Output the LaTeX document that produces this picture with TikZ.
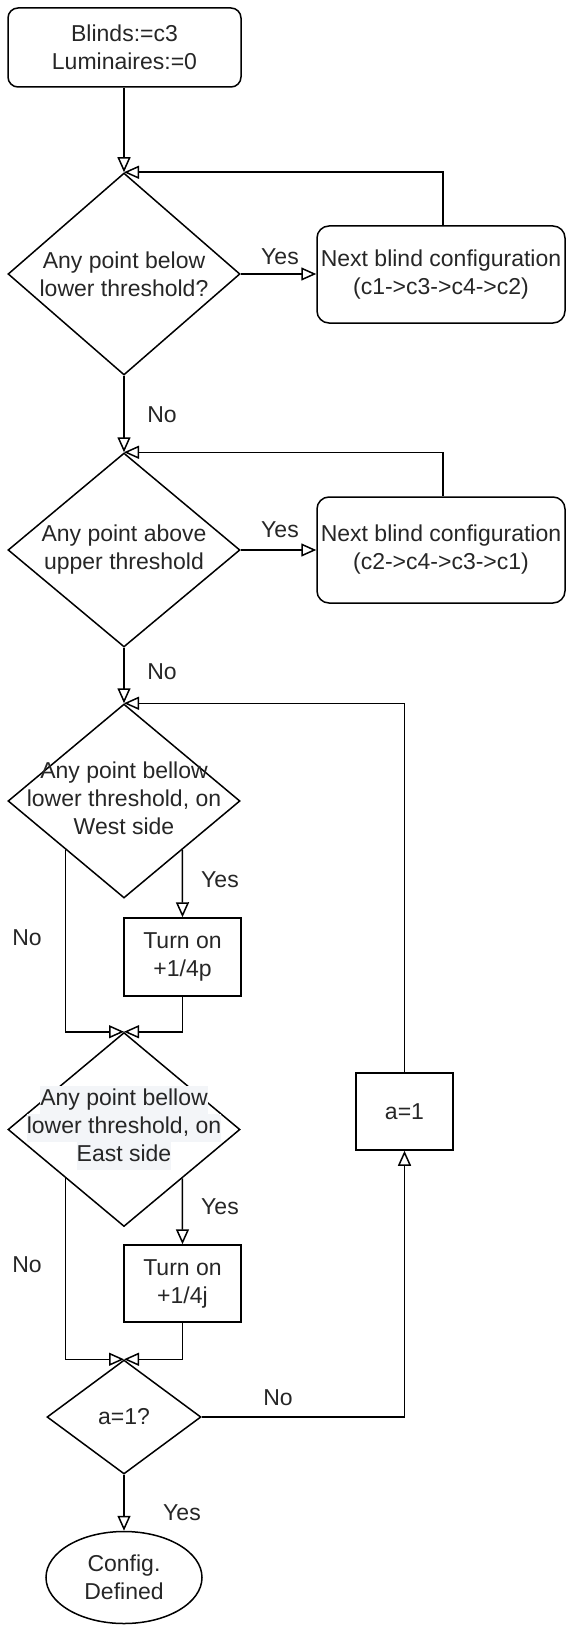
\documentclass[tikz,border=0pt]{standalone}
\usepackage{fontspec}
\setmainfont{Liberation Sans}
\usetikzlibrary{arrows.meta,shapes.geometric}
\definecolor{hlgrey}{HTML}{F3F5F8}
\newcommand{\hiline}[1]{{\setlength{\fboxsep}{0pt}\colorbox{hlgrey}{\strut #1}}}
\tikzset{
  txt/.style={align=center, text=black!85, font=\fontsize{23}{28}\selectfont},
  startbox/.style={txt, draw, rounded corners=10pt, minimum width=233pt, minimum height=79pt},
  nextbox/.style={txt, draw, rounded corners=12pt, minimum width=248pt, minimum height=97pt},
  lampbox/.style={txt, draw, minimum width=117pt, minimum height=78pt},
  decision/.style={diamond, draw, inner sep=0pt, minimum width=232pt, minimum height=194pt},
  stopnode/.style={txt, draw, ellipse, minimum width=156pt, minimum height=92pt},
  line/.style={draw, -{Triangle[open, length=15pt, width=13pt]}}
}
\begin{document}
\begin{tikzpicture}[x=1pt, y=-1pt, line width=1.5pt]
\useasboundingbox (0,0) rectangle (566,1629);
% blinds
\node[startbox] (start) at (124.5,47.5) {Blinds:=c3\\Luminaires:=0};
\node[decision, minimum height=202pt] (d1) at (124,274) {};
\node[txt] (d1t) at (d1) {Any point below\\lower threshold?};
\node[nextbox] (n1) at (441,274.5) {Next blind configuration\\(c1->c3->c4->c2)};
\node[decision] (d2) at (124,550) {};
\node[txt] (d2t) at (d2) {Any point above\\upper threshold};
\node[nextbox, minimum height=106pt] (n2) at (441,550) {Next blind configuration\\(c2->c4->c3->c1)};
% luminaires
\node[decision] (d3) at (124,801) {};
\node[txt] (d3t) at (124,798) {Any point bellow\\lower threshold, on\\West side};
\node[lampbox] (w1) at (182.5,957) {Turn on\\+1/4p};
\node[decision] (d4) at (124,1129.5) {};
\node[txt] (d4t) at (124,1128) {\hiline{Any point bellow}\\\hiline{lower threshold, on}\\\hiline{East side}};
\node[lampbox, minimum height=77pt] (e1) at (182.5,1283.5) {Turn on\\+1/4j};
\node[decision, minimum width=154pt, minimum height=114pt] (d5) at (124,1417) {};
\node[txt] (d5t) at (d5) {a=1?};
\node[lampbox, minimum width=97pt, minimum height=77pt] (a1) at (404.5,1111.5) {a=1};
\node[stopnode] (stop) at (124,1577.5) {Config.\\Defined};
% labels
\node[txt] (y1) at (280,257) {Yes};
\node[txt] (o1) at (162,415) {No};
\node[txt] (y2) at (280,530) {Yes};
\node[txt] (o2) at (162,672) {No};
\node[txt] (y3) at (220,880) {Yes};
\node[txt] (o3) at (27,938) {No};
\node[txt] (y4) at (220,1207) {Yes};
\node[txt] (o4) at (27,1265) {No};
\node[txt] (o5) at (278,1398) {No};
\node[txt] (y5) at (182,1513) {Yes};
% connectors
\draw[line] (start.south -| d1.north) -- (d1.north);
\draw[line] (d1.east) -- (n1.west |- d1.east);
\draw[line] (n1.north) ++(2,0) |- (d1.north);
\draw[line] (d1.south) -- (d2.north);
\draw[line] (d2.east) -- (n2.west |- d2.east);
\draw[line] (n2.north) ++(2,0) |- (d2.north);
\draw[line] (d2.south) -- (d3.north);
\draw[line] (d3.south east) -- (w1.north);
\draw[line] (d3.south west) |- (d4.north);
\draw[line] (w1.south) |- (d4.north);
\draw[line] (d4.south east) -- (e1.north);
\draw[line] (d4.south west) |- (d5.north);
\draw[line] (e1.south) |- (d5.north);
\draw[line] (d5.east) -| (a1.south);
\draw[line] (a1.north) |- (d3.north);
\draw[line] (d5.south) -- (stop.north);
\end{tikzpicture}
\end{document}
